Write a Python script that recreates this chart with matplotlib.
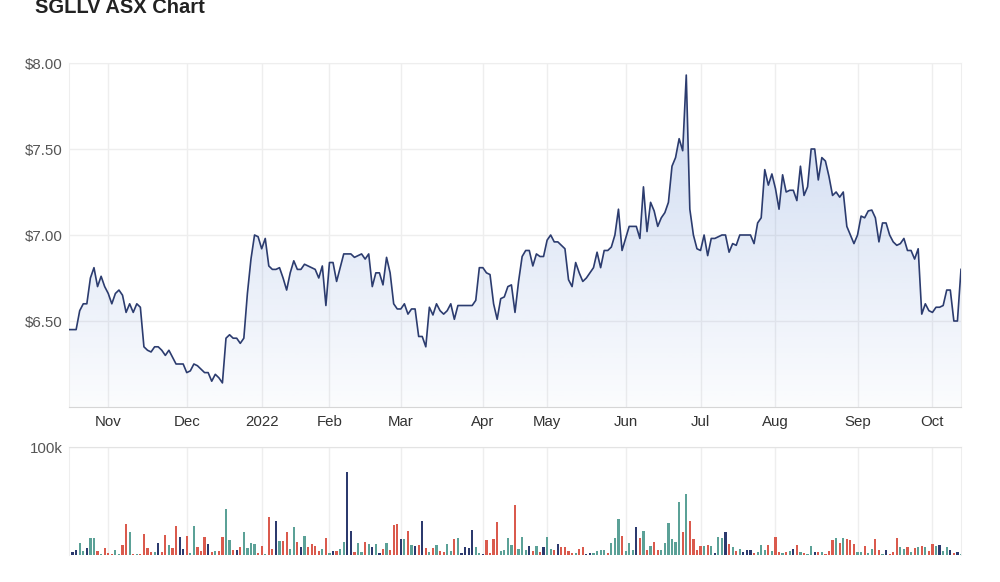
import numpy as np
import pandas as pd
import matplotlib
matplotlib.use('Agg')
import matplotlib.pyplot as plt
from matplotlib.patches import Polygon

plt.rcParams['font.family'] = ['Liberation Sans', 'DejaVu Sans']

# ASX trading days shown on the chart (ordinal axis, one slot per session)
holidays = ['2021-12-27', '2021-12-28', '2022-01-03', '2022-01-26', '2022-04-15',
            '2022-04-18', '2022-04-25', '2022-06-13', '2022-09-22']
dates = pd.bdate_range('2021-10-15', '2022-10-13', freq='C', holidays=holidays)

close = [
    6.45, 6.45, 6.45, 6.56, 6.60, 6.60, 6.75, 6.81, 6.70, 6.76,
    6.70, 6.66, 6.60, 6.66, 6.68, 6.65, 6.55, 6.60, 6.55, 6.60,
    6.58, 6.35, 6.33, 6.32, 6.35, 6.35, 6.33, 6.30, 6.33, 6.29,
    6.25, 6.25, 6.25, 6.20, 6.21, 6.25, 6.24, 6.22, 6.20, 6.20,
    6.15, 6.19, 6.17, 6.14, 6.40, 6.42, 6.40, 6.40, 6.37, 6.40,
    6.66, 6.86, 7.00, 6.99, 6.92, 6.98, 6.82, 6.80, 6.80, 6.81,
    6.75, 6.68, 6.78, 6.85, 6.80, 6.80, 6.83, 6.82, 6.81, 6.80,
    6.75, 6.82, 6.59, 6.84, 6.84, 6.73, 6.81, 6.89, 6.89, 6.89,
    6.87, 6.88, 6.89, 6.86, 6.89, 6.70, 6.78, 6.78, 6.71, 6.87,
    6.78, 6.60, 6.57, 6.57, 6.60, 6.54, 6.57, 6.57, 6.41, 6.41,
    6.35, 6.58, 6.535, 6.60, 6.56, 6.54, 6.56, 6.60, 6.51, 6.59,
    6.59, 6.59, 6.59, 6.59, 6.62, 6.81, 6.81, 6.78, 6.77, 6.60,
    6.51, 6.63, 6.64, 6.70, 6.71, 6.55, 6.73, 6.875, 6.91, 6.91,
    6.82, 6.89, 6.875, 6.875, 6.97, 7.00, 6.96, 6.96, 6.94, 6.92,
    6.74, 6.70, 6.84, 6.78, 6.73, 6.75, 6.78, 6.81, 6.90, 6.81,
    6.91, 6.91, 6.93, 7.00, 7.15, 6.91, 6.98, 7.05, 7.05, 7.05,
    6.98, 7.28, 7.02, 7.19, 7.14, 7.05, 7.10, 7.13, 7.19, 7.40,
    7.45, 7.56, 7.49, 7.93, 7.15, 7.00, 6.92, 6.91, 7.00, 6.88,
    6.98, 6.98, 6.99, 7.00, 7.00, 6.90, 6.95, 6.94, 7.00, 7.00,
    7.00, 7.00, 6.95, 7.07, 7.10, 7.38, 7.29, 7.355, 7.27, 7.15,
    7.35, 7.25, 7.26, 7.26, 7.20, 7.40, 7.23, 7.28, 7.50, 7.50,
    7.32, 7.45, 7.43, 7.34, 7.23, 7.25, 7.22, 7.25, 7.05, 7.00,
    6.95, 7.00, 7.11, 7.10, 7.14, 7.145, 7.10, 6.96, 7.07, 7.07,
    7.00, 6.96, 6.94, 6.95, 6.98, 6.91, 6.91, 6.86, 6.92, 6.54,
    6.60, 6.56, 6.55, 6.58, 6.58, 6.59, 6.68, 6.68, 6.50, 6.50,
    6.80,
]

# volume in thousands of shares
volume_k = [
    1.2, 2.2, 4.3, 10.6, 3.4, 6.2, 15.2, 15.2, 3.4, 0.6,
    6.2, 1.2, 0.6, 4.3, 0.6, 9.3, 28.2, 21.4, 0.6, 0.6,
    0.6, 19.6, 6.2, 2.2, 2.2, 11.2, 2.2, 18.3, 9.3, 6.2,
    26.4, 16.1, 5.3, 17.4, 1.2, 26.4, 7.4, 3.4, 16.1, 10.2,
    2.5, 3.1, 3.1, 16.1, 42.5, 13.7, 4.3, 4.3, 7.4, 21.4,
    6.2, 11.2, 10.2, 1.9, 8.4, 0.6, 35.4, 5.3, 31.7, 13.0,
    13.0, 21.4, 5.3, 25.5, 11.5, 7.4, 17.4, 7.4, 10.2, 8.4,
    3.4, 5.3, 15.2, 1.2, 3.4, 3.4, 5.3, 12.1, 76.7, 22.3,
    2.2, 11.2, 2.2, 12.1, 10.2, 7.1, 10.2, 1.2, 5.3, 11.2,
    4.3, 27.3, 28.2, 14.3, 14.3, 22.3, 9.3, 8.1, 9.3, 31.4,
    6.2, 2.2, 6.2, 9.3, 3.1, 2.2, 10.2, 3.1, 14.3, 15.2,
    1.2, 7.1, 6.2, 23.3, 7.1, 1.2, 0.6, 13.3, 1.2, 14.3,
    30.4, 3.1, 4.3, 15.2, 9.3, 46.3, 5.3, 16.1, 4.3, 8.4,
    3.1, 8.1, 2.5, 7.1, 16.1, 5.3, 4.3, 10.2, 7.1, 7.1,
    3.1, 1.2, 1.2, 5.3, 7.1, 0.6, 1.2, 1.2, 3.1, 4.3,
    4.3, 1.2, 11.2, 15.2, 33.5, 17.4, 3.1, 11.2, 4.3, 25.5,
    15.2, 22.3, 4.3, 8.4, 12.1, 4.3, 4.3, 11.2, 29.5, 14.3,
    12.1, 48.7, 21.4, 56.5, 31.4, 14.3, 4.3, 8.4, 8.4, 9.3,
    8.4, 1.2, 16.1, 15.2, 21.4, 10.2, 7.1, 3.1, 5.3, 2.2,
    4.3, 4.3, 1.2, 2.2, 9.3, 4.3, 9.3, 3.4, 16.1, 2.2,
    1.2, 2.2, 3.1, 5.3, 9.3, 2.2, 1.2, 0.6, 8.1, 2.2,
    2.2, 2.2, 0.6, 3.4, 13.3, 15.2, 11.2, 15.2, 14.3, 13.3,
    10.2, 2.2, 2.2, 8.4, 1.2, 5.3, 14.3, 4.3, 0.6, 4.3,
    0.6, 2.2, 15.2, 7.1, 5.3, 7.1, 2.2, 6.2, 7.1, 8.1,
    7.1, 3.1, 10.2, 8.1, 9.3, 3.1, 7.1, 4.3, 1.2, 2.2,
    0.6,
]

# day direction of each session: u = up, d = down, f = flat
moves = ("fffuufuudu" "ddduuddudu" "ddddufddud" "dffduudddf" "dudduudfdu"
         "uuudduddfu" "dduudfuddd" "dudufduuff" "duudufufdu" "dddfudufdf"
         "dududduudu" "ffffuufddd" "duuuuduuuf" "dudfuudfdd" "dduddffuuu"
         "uduuuduuuf" "dududduuuu" "uududdddud" "ufuufduduf" "ffduuududd"
         "udufduduuf" "dudddududd" "duuduudduf" "ddduududud" "uddufuufdf"
         "u")

n = len(close)
x = np.arange(n)

# month ticks at the first session of each month
month_pos, month_lab = [], []
for i in range(1, len(dates)):
    d = dates[i]
    if d.month != dates[i - 1].month:
        month_pos.append(i)
        month_lab.append(str(d.year) if d.month == 1 else d.strftime('%b'))

move_colors = {'u': '#5ba197', 'd': '#da5a4d', 'f': '#2c3a6e'}
bar_colors = [move_colors[m] for m in moves]

fig = plt.figure(figsize=(10, 5.82), dpi=100)
ax = fig.add_axes([0.069, 1 - 407 / 582, 0.892, 344 / 582])
axv = fig.add_axes([0.069, 1 - 554.7 / 582, 0.892, 107.4 / 582])

# gradient area under the price line
grad = np.zeros((256, 1, 4))
grad[:, 0, 0] = 60 / 255
grad[:, 0, 1] = 110 / 255
grad[:, 0, 2] = 200 / 255
grad[:, 0, 3] = np.linspace(0.27, 0.02, 256)
im = ax.imshow(grad, extent=[0, n - 1, 6, 8], aspect='auto', origin='upper',
               interpolation='bilinear', zorder=1)
poly = Polygon(np.column_stack([np.r_[0, x, n - 1], np.r_[6, close, 6]]),
               closed=True, facecolor='none', edgecolor='none')
ax.add_patch(poly)
im.set_clip_path(poly)

ax.plot(x, close, color='#2c3c6f', lw=1.2, zorder=3)

ax.set_xlim(0, n - 1)
ax.set_ylim(6, 8)
ax.set_yticks([6.5, 7.0, 7.5, 8.0])
ax.set_yticklabels(['$%.2f' % v for v in [6.5, 7.0, 7.5, 8.0]])
ax.set_xticks(month_pos)
ax.set_xticklabels(month_lab)
ax.set_axisbelow(True)
ax.grid(True, color='#eeeeee', lw=1)
ax.tick_params(axis='y', length=0, pad=4.3, labelsize=10.8, colors='#555555')
ax.tick_params(axis='x', length=0, pad=6, labelsize=10.8, colors='#333333')
for s in ['left', 'right', 'top']:
    ax.spines[s].set_color('#eeeeee')
ax.spines['bottom'].set_color('#d6d6d6')

axv.bar(x, volume_k, width=0.62, color=bar_colors, zorder=2)
axv.set_xlim(0, n - 1)
axv.set_ylim(0, 100)
axv.set_yticks([100])
axv.set_yticklabels(['100k'])
axv.set_xticks(month_pos)
axv.set_xticklabels([])
axv.set_axisbelow(True)
axv.grid(True, color='#eeeeee', lw=1)
axv.tick_params(axis='both', length=0, pad=4.3, labelsize=10.8, colors='#555555')
axv.spines['bottom'].set_visible(False)
axv.spines['top'].set_color('#e3e3e3')
axv.spines['left'].set_color('#eeeeee')
axv.spines['right'].set_color('#eeeeee')

fig.text(0.035, 1 - 13 / 582, 'SGLLV ASX Chart', fontsize=14.5, fontweight='bold',
         color='#222222', va='baseline', ha='left')

plt.savefig('out.png', dpi=100)
plt.close()
